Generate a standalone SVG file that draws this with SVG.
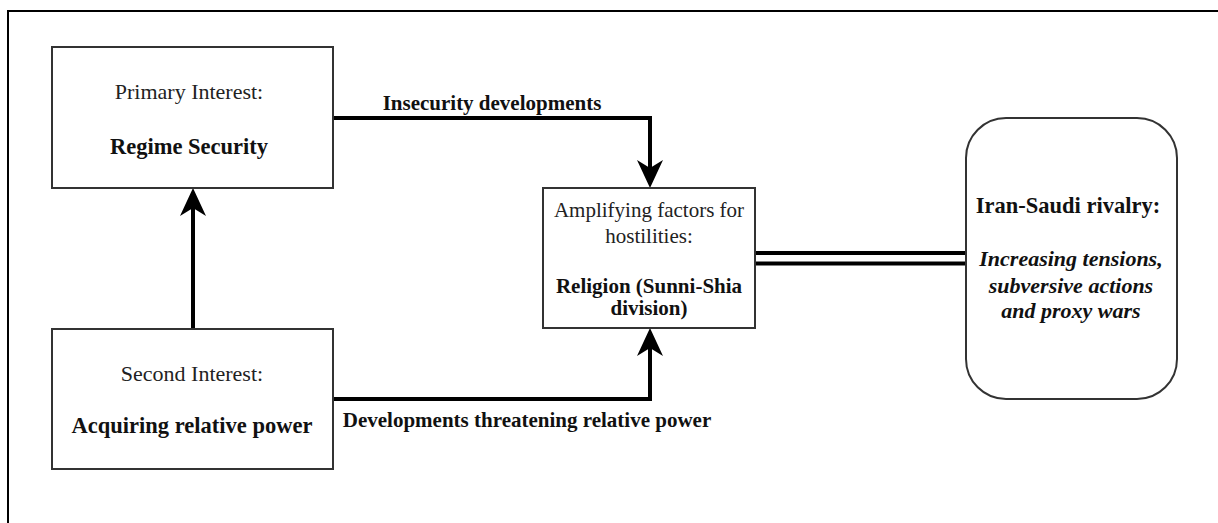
<svg xmlns="http://www.w3.org/2000/svg" width="1218" height="523" viewBox="0 0 1218 523">
<style>
.box{fill:#fff;stroke:#333;stroke-width:2}
.t{font-family:"Liberation Serif","Times New Roman",serif;fill:#222;text-anchor:middle}
.b{font-weight:bold;fill:#111}
.i{font-style:italic}
.conn{fill:none;stroke:#000;stroke-width:4}
</style>
<defs>
<marker id="ah" viewBox="-28 -14 28 28" refX="-12" refY="0" markerWidth="28" markerHeight="28" markerUnits="userSpaceOnUse" orient="auto">
<path d="M0,0 L-28,-13 L-20,0 L-28,13 Z" fill="#000"/>
</marker>
</defs>
<rect width="1218" height="523" fill="#fff"/>
<path d="M8,523 V11 H1218" fill="none" stroke="#000" stroke-width="2"/>
<g id="connectors">
<path class="conn" d="M193,329 V200" marker-end="url(#ah)"/>
<path class="conn" d="M333,118 H650 V176" marker-end="url(#ah)"/>
<path class="conn" d="M333,399 H650 V340" marker-end="url(#ah)"/>
<line x1="755" y1="253" x2="966" y2="253" stroke="#000" stroke-width="4"/>
<line x1="755" y1="263.5" x2="966" y2="263.5" stroke="#000" stroke-width="4"/>
<text class="t b" x="492" y="110" font-size="21">Insecurity developments</text>
<text class="t b" x="527" y="427" font-size="21">Developments threatening relative power</text>
</g>
<g id="node-primary">
<rect class="box" x="52" y="47" width="281" height="141"/>
<text class="t" x="189" y="99" font-size="22">Primary Interest:</text>
<text class="t b" x="189" y="154" font-size="22.5">Regime Security</text>
</g>
<g id="node-second">
<rect class="box" x="52" y="329" width="281" height="140"/>
<text class="t" x="192" y="381" font-size="22">Second Interest:</text>
<text class="t b" x="192" y="433" font-size="22.5">Acquiring relative power</text>
</g>
<g id="node-amplifying">
<rect class="box" x="543" y="188" width="212" height="140"/>
<text class="t" x="649" y="217" font-size="21">Amplifying factors for</text>
<text class="t" x="649" y="243" font-size="21">hostilities:</text>
<text class="t b" x="649" y="293" font-size="21">Religion (Sunni-Shia</text>
<text class="t b" x="649" y="315" font-size="21">division)</text>
</g>
<g id="node-rivalry">
<rect class="box" x="966" y="118" width="211" height="281" rx="40" ry="40"/>
<text class="t b" x="1068" y="213" font-size="22.5">Iran-Saudi rivalry:</text>
<text class="t b i" x="1071" y="266" font-size="22">Increasing tensions,</text>
<text class="t b i" x="1071" y="293" font-size="22">subversive actions</text>
<text class="t b i" x="1071" y="318" font-size="22">and proxy wars</text>
</g>
</svg>
